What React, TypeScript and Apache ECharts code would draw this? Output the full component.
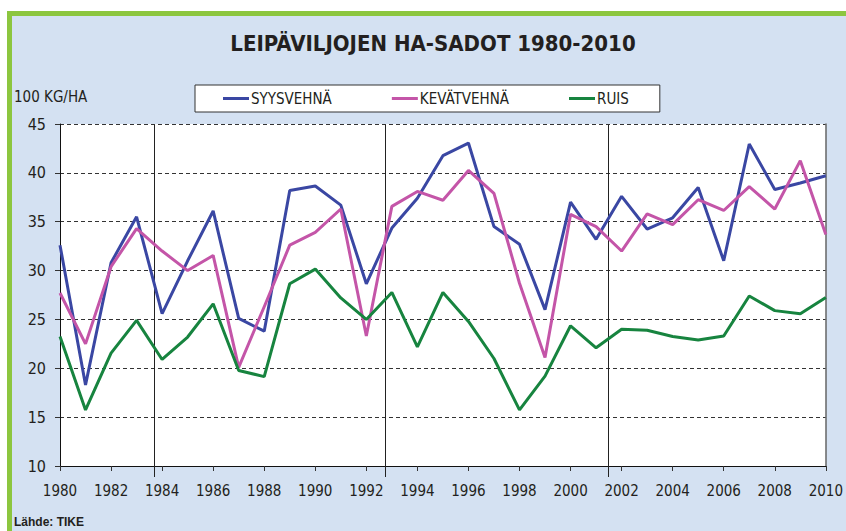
import React, { useEffect, useRef } from "react";
import * as echarts from "echarts";

const years = [1980, 1981, 1982, 1983, 1984, 1985, 1986, 1987, 1988, 1989, 1990, 1991, 1992, 1993, 1994, 1995, 1996, 1997, 1998, 1999, 2000, 2001, 2002, 2003, 2004, 2005, 2006, 2007, 2008, 2009, 2010];
const syysvehna = [32.6, 18.3, 30.8, 35.5, 25.6, 31.0, 36.1, 25.1, 23.8, 38.2, 38.65, 36.7, 28.65, 34.35, 37.4, 41.76, 43.05, 34.5, 32.7, 26.0, 37.0, 33.2, 37.6, 34.25, 35.4, 38.5, 31.0, 42.95, 38.3, 38.96, 39.7];
const kevatvehna = [27.7, 22.5, 30.4, 34.3, 32.0, 30.0, 31.55, 20.1, 26.3, 32.6, 33.9, 36.3, 23.3, 36.57, 38.1, 37.2, 40.25, 37.9, 28.7, 21.1, 35.75, 34.5, 32.0, 35.8, 34.7, 37.25, 36.15, 38.6, 36.3, 41.25, 33.7];
const ruis = [23.25, 15.74, 21.55, 24.9, 20.9, 23.2, 26.6, 19.77, 19.15, 28.65, 30.15, 27.2, 25.0, 27.76, 22.2, 27.76, 24.8, 21.0, 15.74, 19.2, 24.35, 22.1, 24.0, 23.9, 23.25, 22.9, 23.3, 27.4, 25.9, 25.57, 27.25];
const seriesNames = ["SYYSVEHNÄ", "KEVÄTVEHNÄ", "RUIS"];
const seriesColors = ["#3a47a3", "#c455a8", "#17843f"];
const dividerYears = [1983.7, 1992.75, 2001.45];

const TITLE = "LEIPÄVILJOJEN HA-SADOT 1980-2010";
const UNIT = "100 KG/HA";
const SOURCE = "Lähde: TIKE";

const NARROW = "'Liberation Sans Narrow', 'Arial Narrow', 'DejaVu Sans Condensed', sans-serif";
const SANS = "'Liberation Sans', Arial, sans-serif";
const TEXT = "#231f20";

export default function App() {
  const ref = useRef<HTMLDivElement>(null);

  useEffect(() => {
    if (!ref.current) return;
    const chart = echarts.init(ref.current, null, { renderer: "svg" });
    const mk = (name: string, data: number[], color: string) => ({
      name,
      type: "line",
      data: years.map((y, i) => [y, data[i]]),
      showSymbol: false,
      symbol: "none",
      lineStyle: { color, width: 3 },
      itemStyle: { color },
      z: 5,
    });
    const option: any = {
      animation: false,
      backgroundColor: "#ffffff",
      grid: {
        left: 60,
        right: 16,
        top: 124,
        bottom: 65,
        show: true,
        backgroundColor: "#ffffff",
        borderWidth: 0,
      },
      legend: {
        data: seriesNames.map((n, i) => ({ name: n, icon: "rect", itemStyle: { color: seriesColors[i] } })),
        left: 195,
        top: 85,
        padding: [6, 31, 6, 28],
        itemGap: 60,
        itemWidth: 26,
        itemHeight: 3,
        backgroundColor: "#ffffff",
        borderColor: "#333333",
        borderWidth: 1,
        textStyle: { fontFamily: NARROW, fontSize: 15, color: TEXT, padding: [0, 0, 0, -3], lineHeight: 15 },
      },
      xAxis: {
        type: "value",
        min: 1980,
        max: 2010,
        interval: 2,
        axisLine: { show: true, onZero: false, lineStyle: { color: "#111", width: 1 } },
        axisTick: { show: true, length: 5, lineStyle: { color: "#333" } },
        axisLabel: { fontFamily: NARROW, fontSize: 15, color: TEXT, margin: 17, formatter: (v: number) => String(v) },
        splitLine: { show: false },
      },
      yAxis: [
        {
          type: "value",
          min: 10,
          max: 45,
          interval: 5,
          axisLine: { show: true, lineStyle: { color: "#111", width: 1 } },
          axisTick: { show: true, length: 5, lineStyle: { color: "#333" } },
          axisLabel: { fontFamily: NARROW, fontSize: 16, color: TEXT, margin: 14 },
          splitLine: { show: true, lineStyle: { color: "#333", type: [4, 3], width: 1 } },
        },
        {
          type: "value",
          position: "right",
          min: 10,
          max: 45,
          interval: 5,
          axisLine: { show: true, lineStyle: { color: "#666", width: 1.5 } },
          axisTick: { show: false },
          axisLabel: { show: false },
          splitLine: { show: false },
        },
      ],
      graphic: [
        { type: "rect", silent: true, z: -10, shape: { x: 7, y: 11, width: 846, height: 531 }, style: { fill: "#8cc63f" } },
        { type: "rect", silent: true, z: -9, shape: { x: 12, y: 16, width: 846, height: 531 }, style: { fill: "#d4e1f2" } },
        { type: "text", x: 433, y: 43, style: { text: TITLE, fontFamily: NARROW, fontWeight: "bold", fontSize: 22, fill: TEXT, align: "center", verticalAlign: "middle" } },
        { type: "text", x: 14, y: 97, style: { text: UNIT, fontFamily: NARROW, fontSize: 15, fill: TEXT, align: "left", verticalAlign: "middle" } },
        { type: "text", x: 14, y: 522, style: { text: SOURCE, fontFamily: SANS, fontWeight: "bold", fontSize: 12, fill: TEXT, align: "left", verticalAlign: "middle" } },
      ],
      series: [
        mk(seriesNames[0], syysvehna, seriesColors[0]),
        mk(seriesNames[1], kevatvehna, seriesColors[1]),
        mk(seriesNames[2], ruis, seriesColors[2]),
      ],
    };
    chart.setOption(option);

    const top = chart.convertToPixel({ yAxisIndex: 0 }, 45) as number;
    const bottom = chart.convertToPixel({ yAxisIndex: 0 }, 10) as number;
    const dividers = dividerYears.map((yr) => {
      const x = Math.round(chart.convertToPixel({ xAxisIndex: 0 }, yr) as number) + 0.5;
      return {
        type: "line",
        silent: true,
        z: 4,
        shape: { x1: x, y1: top + 1, x2: x, y2: bottom + 11 },
        style: { stroke: "#222", lineWidth: 1 },
      };
    });
    chart.setOption({ graphic: [...option.graphic, ...dividers] });

    return () => chart.dispose();
  }, []);

  return (
    <div
      ref={ref}
      style={{ position: "fixed", left: 0, top: 0, width: 846, height: 531 }}
    />
  );
}
